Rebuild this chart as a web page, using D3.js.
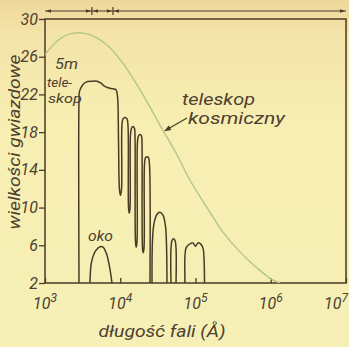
<!DOCTYPE html>
<html>
<head>
<meta charset="utf-8">
<script src="https://cdn.jsdelivr.net/npm/d3@7"></script>
<style>
  html, body { margin: 0; padding: 0; background: #f6efb4; }
  svg { display: block; }
  text {
    font-family: Roboto, "Liberation Sans Narrow", "DejaVu Sans Condensed", sans-serif;
    font-style: italic;
    fill: #4d4030;
  }
</style>
</head>
<body>
<div id="chart"></div>
<script>
// Axis ticks
var yTicks = [2, 6, 10, 14, 18, 22, 26, 30];
var xTickExponents = [3, 4, 5, 6, 7];

// Spectral ranges marked by the arrows above the frame (Å)
var rangeBounds = [1000, 4200, 8000, 10000000];

// Limit of the space telescope: [wavelength (Å), magnitude]
var spaceTelescope = [
  [1000, 26.2], [1277, 27.25], [1734, 28.1], [2355, 28.5], [3198, 28.5],
  [4343, 28.2], [6660, 27.25], [10890, 25.3], [18290, 22.5], [36890, 18.2],
  [56760, 15.6], [84510, 12.9], [142200, 10.0], [231800, 7.4], [389800, 5.3],
  [656600, 3.6], [977000, 2.5], [1327000, 2.0]
];

// 5 m ground telescope, visible/near infrared window and the absorption bands
var groundMain = [
  [2830, 2], [2830, 21.4], [2870, 22.3], [3100, 22.9], [3510, 23.3],
  [4220, 23.4], [4910, 23.4], [5550, 23.2], [6080, 22.9], [6870, 22.7],
  [8010, 22.6], [8790, 22.5], [9190, 21.8], [9480, 17.2], [9770, 11.9],
  [10070, 11.3], [10390, 11.9], [10540, 18.8], [10880, 19.4], [11570, 19.55],
  [12300, 19.4], [12680, 18.65], [12880, 10.0], [13160, 9.4], [13490, 10.0],
  [13690, 17.8], [14100, 18.4], [14760, 18.6], [15450, 18.4], [15700, 17.6],
  [15950, 6.35], [16290, 5.8], [16700, 6.35], [16950, 17.0], [17490, 17.6],
  [18290, 17.75], [19150, 17.6], [19450, 16.85], [19760, 5.7], [20190, 5.2],
  [20690, 5.7], [21000, 14.6], [21660, 15.3], [22690, 15.4], [23730, 15.3],
  [24470, 14.5], [24840, 2]
];

// 5 m ground telescope, windows further in the infrared
var groundPeak = [
  [26420, 2], [26840, 6.6], [28080, 8.3], [30780, 9.3], [33750, 9.5],
  [36990, 9.2], [39930, 8.0], [41190, 6.0], [41800, 2]
];
var groundNarrow = [
  [47240, 2], [47240, 5.7], [48730, 6.5], [51030, 6.7], [53440, 6.5],
  [55110, 5.7], [55110, 2]
];
var groundFar = [
  [72470, 2], [72470, 4.9], [74750, 5.7], [79470, 6.0], [87150, 6.2],
  [92610, 6.25], [100000, 5.9], [107900, 6.25], [116500, 6.15], [125800, 5.7],
  [129700, 4.65], [131800, 2]
];

// Naked eye
var eye = [
  [3960, 2], [4150, 4.2], [4700, 5.4], [5400, 5.85], [5900, 5.8],
  [6500, 5.2], [7100, 4.0], [7770, 2]
];

// Labels placed in data units: [text, wavelength, magnitude, font size, width]
var labels = [
  ['5m', 1360, 24.72, 15, 23],
  ['tele-', 1063, 22.8, 13, 25],
  ['skop', 1096, 21.1, 13, 34],
  ['teleskop', 66100, 20.9, 16, 73],
  ['kosmiczny', 79400, 18.9, 16, 97],
  ['oko', 3730, 6.45, 15, 25]
];
// Arrow pointing at the space telescope curve: [tail], [tip]
var pointer = [[77100, 19.5], [38100, 18.1]];

var width = 349;
var height = 347;
var ink = '#4a3b26';
var green = '#b3c48c';

var svg = d3.select('#chart').append('svg')
  .attr('width', width)
  .attr('height', height);

// Paper background, a bit darker at the top
var grad = svg.append('defs').append('linearGradient')
  .attr('id', 'paper')
  .attr('x1', 0).attr('y1', 0).attr('x2', 0).attr('y2', 1);
grad.append('stop').attr('offset', '0%').attr('stop-color', '#efd79c');
grad.append('stop').attr('offset', '10%').attr('stop-color', '#f3e4a8');
grad.append('stop').attr('offset', '35%').attr('stop-color', '#f7eeb2');
grad.append('stop').attr('offset', '100%').attr('stop-color', '#f6f0b6');
svg.append('rect')
  .attr('width', width)
  .attr('height', height)
  .attr('fill', 'url(#paper)');

var x = d3.scaleLog().domain([1e3, 1e7]).range([45, 346]);
var y = d3.scaleLinear().domain([2, 30]).range([283, 19]);

svg.append('clipPath').attr('id', 'plot-clip')
  .append('rect')
    .attr('x', x.range()[0])
    .attr('y', y.range()[1])
    .attr('width', x.range()[1] - x.range()[0])
    .attr('height', y.range()[0] - y.range()[1]);

// === Axes ===
var yAxis = d3.axisLeft(y)
  .tickValues(yTicks)
  .tickSize(6)
  .tickPadding(1)
  .tickFormat(d3.format('d'));

var yAxisG = svg.append('g')
  .attr('transform', 'translate(' + x.range()[0] + ',0)')
  .call(yAxis);
yAxisG.select('.domain').remove();
yAxisG.selectAll('line').attr('stroke', ink).attr('stroke-width', 1.3);
yAxisG.selectAll('text')
  .attr('fill', '#4d4030')
  .style('font-size', '16px')
  .style('font-family', null);

var xAxis = d3.axisBottom(x)
  .tickValues(xTickExponents.map(function(e) { return Math.pow(10, e); }))
  .tickSize(-5)
  .tickFormat('');

var xAxisG = svg.append('g')
  .attr('transform', 'translate(0,' + y.range()[0] + ')')
  .call(xAxis);
xAxisG.select('.domain').remove();
xAxisG.selectAll('line').attr('stroke', ink).attr('stroke-width', 1.3);

// Powers of ten with superscript exponents
var xLabels = svg.append('g').selectAll('text')
  .data(xTickExponents)
  .enter()
  .append('text')
    .attr('x', function(d, i) {
      return x(Math.pow(10, d)) + (i === xTickExponents.length - 1 ? -10 : 0);
    })
    .attr('y', 309)
    .attr('text-anchor', 'middle');
xLabels.append('tspan')
  .style('font-size', '16px')
  .text('10');
xLabels.append('tspan')
  .attr('dy', -7)
  .style('font-size', '12px')
  .text(function(d) { return d; });

// Frame
svg.append('rect')
  .attr('x', x.range()[0])
  .attr('y', y.range()[1])
  .attr('width', x.range()[1] - x.range()[0])
  .attr('height', y.range()[0] - y.range()[1])
  .attr('fill', 'none')
  .attr('stroke', ink)
  .attr('stroke-width', 1.5);

// Axis titles
svg.append('text')
  .attr('x', 162)
  .attr('y', 337)
  .attr('text-anchor', 'middle')
  .attr('textLength', 127)
  .attr('lengthAdjust', 'spacingAndGlyphs')
  .style('font-size', '16px')
  .text('długość fali (Å)');

svg.append('text')
  .attr('transform', 'translate(20,142) rotate(-90)')
  .attr('text-anchor', 'middle')
  .attr('textLength', 175)
  .attr('lengthAdjust', 'spacingAndGlyphs')
  .style('font-size', '16px')
  .text('wielkości gwiazdowe');

// === Range arrows above the frame ===
var topY = 11;
var ranges = svg.append('g');
ranges.append('line')
  .attr('x1', x(rangeBounds[0]))
  .attr('x2', x(rangeBounds[rangeBounds.length - 1]))
  .attr('y1', topY)
  .attr('y2', topY)
  .attr('stroke', ink)
  .attr('stroke-width', 1);

ranges.selectAll('line.bound')
  .data(rangeBounds.slice(1, -1))
  .enter()
  .append('line')
    .attr('class', 'bound')
    .attr('x1', function(d) { return x(d); })
    .attr('x2', function(d) { return x(d); })
    .attr('y1', topY - 4)
    .attr('y2', topY + 4)
    .attr('stroke', ink)
    .attr('stroke-width', 1.2);

// Every range gets a head on both ends, pointing outwards
var heads = [];
for (var i = 0; i < rangeBounds.length - 1; i++) {
  heads.push({at: rangeBounds[i], dir: -1});
  heads.push({at: rangeBounds[i + 1], dir: 1});
}
ranges.selectAll('path.head')
  .data(heads)
  .enter()
  .append('path')
    .attr('class', 'head')
    .attr('d', function(d) {
      var tip = x(d.at) - d.dir * 1;
      var back = tip - d.dir * 5;
      return 'M' + tip + ',' + topY + 'L' + back + ',' + (topY - 1.8) +
        'L' + back + ',' + (topY + 1.8) + 'Z';
    })
    .attr('fill', ink);

// === Curves ===
var line = d3.line()
  .x(function(d) { return x(d[0]); })
  .y(function(d) { return y(d[1]); })
  .curve(d3.curveCatmullRom.alpha(0.5));

var plot = svg.append('g').attr('clip-path', 'url(#plot-clip)');

plot.append('path')
  .datum(spaceTelescope)
  .attr('d', line)
  .attr('fill', 'none')
  .attr('stroke', green)
  .attr('stroke-width', 1.4);

plot.selectAll('path.ground')
  .data([groundMain, groundPeak, groundNarrow, groundFar, eye])
  .enter()
  .append('path')
    .attr('class', 'ground')
    .attr('d', line)
    .attr('fill', 'none')
    .attr('stroke', ink)
    .attr('stroke-width', 1.5)
    .attr('stroke-linejoin', 'round');

// === Annotations ===
svg.append('g').selectAll('text')
  .data(labels)
  .enter()
  .append('text')
    .attr('x', function(d) { return x(d[1]); })
    .attr('y', function(d) { return y(d[2]); })
    .attr('textLength', function(d) { return d[4]; })
    .attr('lengthAdjust', 'spacingAndGlyphs')
    .style('font-size', function(d) { return d[3] + 'px'; })
    .text(function(d) { return d[0]; });

var tail = [x(pointer[0][0]), y(pointer[0][1])];
var tip = [x(pointer[1][0]), y(pointer[1][1])];
var ang = Math.atan2(tip[1] - tail[1], tip[0] - tail[0]);
svg.append('line')
  .attr('x1', tail[0]).attr('y1', tail[1])
  .attr('x2', tip[0] - 4 * Math.cos(ang)).attr('y2', tip[1] - 4 * Math.sin(ang))
  .attr('stroke', ink)
  .attr('stroke-width', 1.2);
svg.append('path')
  .attr('d', 'M0,0L-7,-2.5L-7,2.5Z')
  .attr('transform', 'translate(' + tip[0] + ',' + tip[1] + ') rotate(' + (ang * 180 / Math.PI) + ')')
  .attr('fill', ink);
</script>
</body>
</html>
